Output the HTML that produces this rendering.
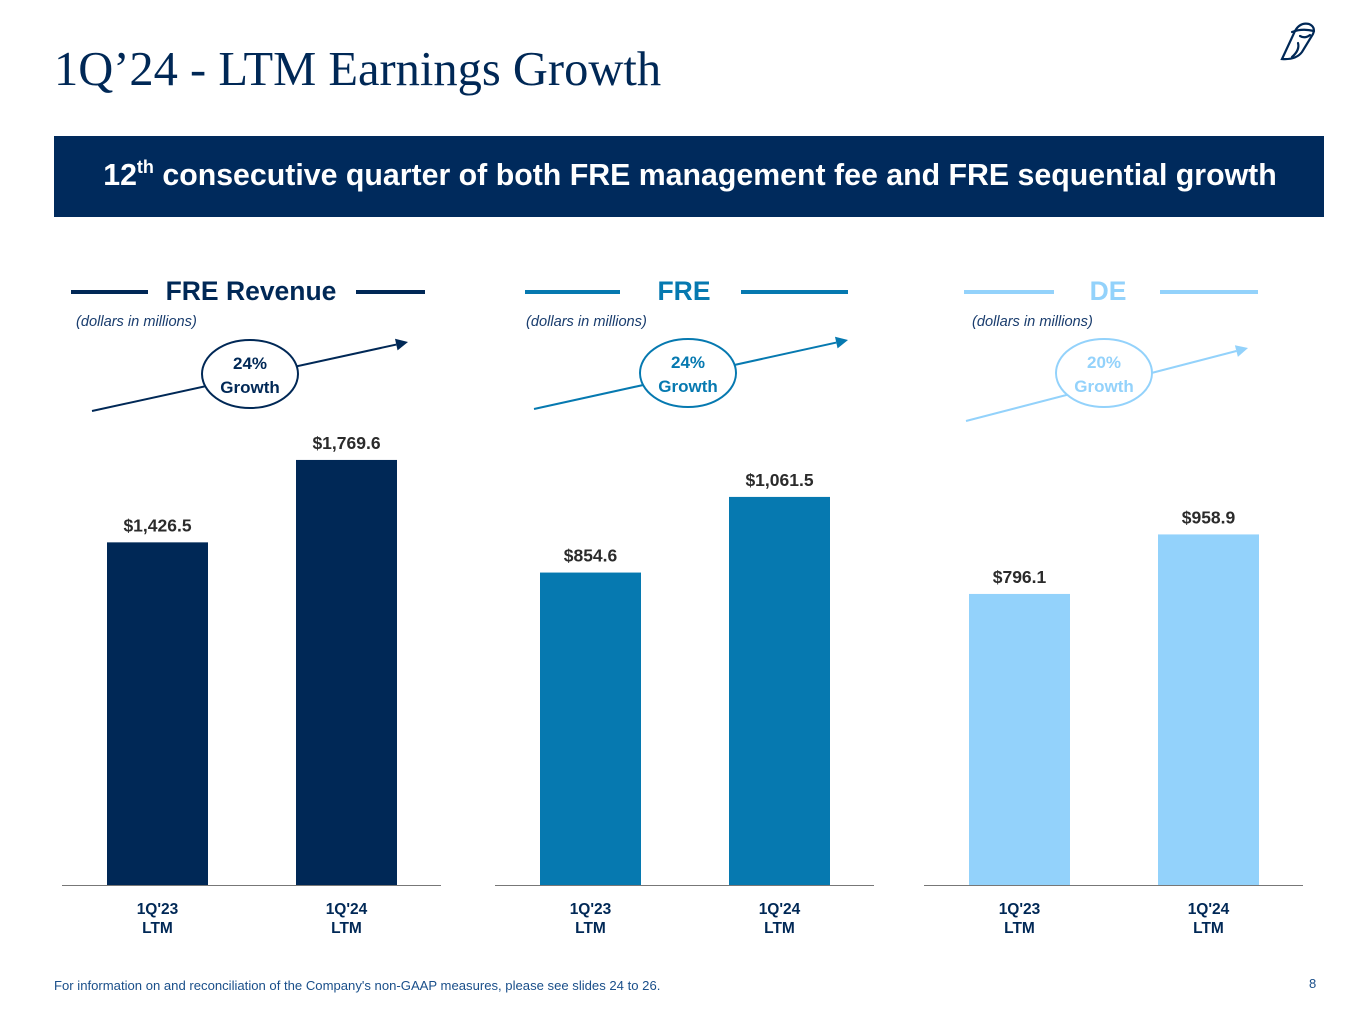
<!DOCTYPE html>
<html><head><meta charset="utf-8"><style>
body{margin:0;background:#fff;}
svg{display:block;font-family:"Liberation Sans",sans-serif;}
</style></head><body>
<svg id="c" width="1365" height="1024" viewBox="0 0 1365 1024">
<text x="54" y="85" font-family="Liberation Serif,serif" font-size="48.5" fill="#002856">1Q’24 - LTM Earnings Growth</text>
<g fill="none" stroke="#002856" stroke-width="2.2" stroke-linecap="round">
<path d="M1282 59 L1295 31 Q1300 22 1309 24 Q1316 27 1313 34 L1302 52 Q1296 60 1282 59 Z"/>
<path d="M1292 32 Q1302 28 1314 31"/>
<path d="M1300 36 Q1305 39 1310 35"/>
<path d="M1298 43 Q1300 50 1292 57"/>
</g>
<rect x="54" y="136" width="1270" height="81" fill="#002a5c"/>
<text x="690" y="185" text-anchor="middle" font-size="30.3" font-weight="bold" fill="#fff">12<tspan font-size="18" dy="-12">th</tspan><tspan dy="12"> consecutive quarter of both FRE management fee and FRE sequential growth</tspan></text>
<text x="54" y="990" font-size="13.1" fill="#1a4f8a">For information on and reconciliation of the Company's non-GAAP measures, please see slides 24 to 26.</text>
<text x="1309" y="988" font-size="13" fill="#1a4f8a">8</text>
<g id="charts"></g>
</svg>
<script>
const categories = ["1Q'23|LTM", "1Q'24|LTM"];
const freRevenue = [1426.5, 1769.6];
const fre = [854.6, 1061.5];
const de = [796.1, 958.9];
const growthLabels = ["24%", "24%", "20%"];
const panelTitles = ["FRE Revenue", "FRE", "DE"];

const NS = "http://www.w3.org/2000/svg";
const root = document.getElementById('charts');
function mk(tag, attrs, parent, txt){
  const e = document.createElementNS(NS, tag);
  for (const k in attrs) e.setAttribute(k, attrs[k]);
  if (txt !== undefined) e.textContent = txt;
  parent.appendChild(e);
  return e;
}
const panels = [
  {x0:62, series:freRevenue, color:"#002856", scale:0.2402, title:panelTitles[0], tc:251, l1:[71,148], l2:[356,425], arrow:[92,411,408,342], ell:[250,374], gcol:"#002856", gtext:"#002856", ux:76},
  {x0:495, series:fre, color:"#0679b0", scale:0.3656, title:panelTitles[1], tc:684, l1:[525,620], l2:[741,848], arrow:[534,409,848,340], ell:[688,373], gcol:"#0679b0", gtext:"#0679b0", ux:526},
  {x0:924, series:de, color:"#93d2fb", scale:0.3656, title:panelTitles[2], tc:1108, l1:[964,1054], l2:[1160,1258], arrow:[966,421,1248,348], ell:[1104,373], gcol:"#93d2fb", gtext:"#93d2fb", ux:972}
];
const base = 885;
panels.forEach((p, pi) => {
  const g = mk('g', {}, root);
  
  
  const ln1 = mk('line', {x1:p.l1[0], x2:p.l1[1], y1:292, y2:292, stroke:p.color, 'stroke-width':4}, g);
  
  
  const ln2 = mk('line', {x1:p.l2[0], x2:p.l2[1], y1:292, y2:292, stroke:p.color, 'stroke-width':4}, g);
  
  
  const t = mk('text', {x:p.tc, y:300, 'text-anchor':'middle', 'font-size':26.5, 'font-weight':'bold', fill:p.color}, g, p.title);
  
  
  const u = mk('text', {x:p.ux, y:326, 'font-size':14.6, 'font-style':'italic', fill:'#1a3d6e'}, g, '(dollars in millions)');
  
  
  const a = p.arrow;
  const ang = Math.atan2(a[3]-a[1], a[2]-a[0]);
  const ax = a[2]-12*Math.cos(ang), ay = a[3]-12*Math.sin(ang);
  const ar = mk('line', {x1:a[0], y1:a[1], x2:ax, y2:ay, stroke:p.gcol, 'stroke-width':2}, g);
  
  
  const px = -Math.sin(ang)*6, py = Math.cos(ang)*6;
  const ah = mk('polygon', {points:`${a[2]},${a[3]} ${ax+px},${ay+py} ${ax-px},${ay-py}`, fill:p.gcol}, g);
  
  
  const el = mk('ellipse', {cx:p.ell[0], cy:p.ell[1], rx:48, ry:34, fill:'#fff', stroke:p.gcol, 'stroke-width':2}, g);
  
  
  const g1 = mk('text', {x:p.ell[0], y:p.ell[1]-5, 'text-anchor':'middle', 'font-size':17, 'font-weight':'bold', fill:p.gtext}, g, growthLabels[pi]);
  
  
  const g2 = mk('text', {x:p.ell[0], y:p.ell[1]+19, 'text-anchor':'middle', 'font-size':17, 'font-weight':'bold', fill:p.gtext}, g, 'Growth');
  
  
  const ax1 = mk('line', {x1:p.x0, x2:p.x0+379, y1:base+0.5, y2:base+0.5, stroke:'#777', 'stroke-width':1}, g);
  
  
  p.series.forEach((v, i) => {
    const bx = p.x0 + 45 + i*189;
    const h = v * p.scale;
    const r = mk('rect', {x:bx, y:base-h, width:101, height:h, fill:p.color}, g);
    
    
    const vl = mk('text', {x:bx+50.5, y:base-h-11, 'text-anchor':'middle', 'font-size':17.5, 'font-weight':'bold', fill:'#2b2b2b'}, g, '$' + v.toLocaleString('en-US', {minimumFractionDigits:1, maximumFractionDigits:1}));
    
    
    const parts = categories[i].split('|');
    const c1 = mk('text', {x:bx+50.5, y:base+29, 'text-anchor':'middle', 'font-size':15.5, 'font-weight':'bold', fill:'#002856'}, g, parts[0]);
    
    
    const c2 = mk('text', {x:bx+50.5, y:base+48, 'text-anchor':'middle', 'font-size':15.5, 'font-weight':'bold', fill:'#002856'}, g, parts[1]);
    
    
  });
});
</script>
</body></html>
